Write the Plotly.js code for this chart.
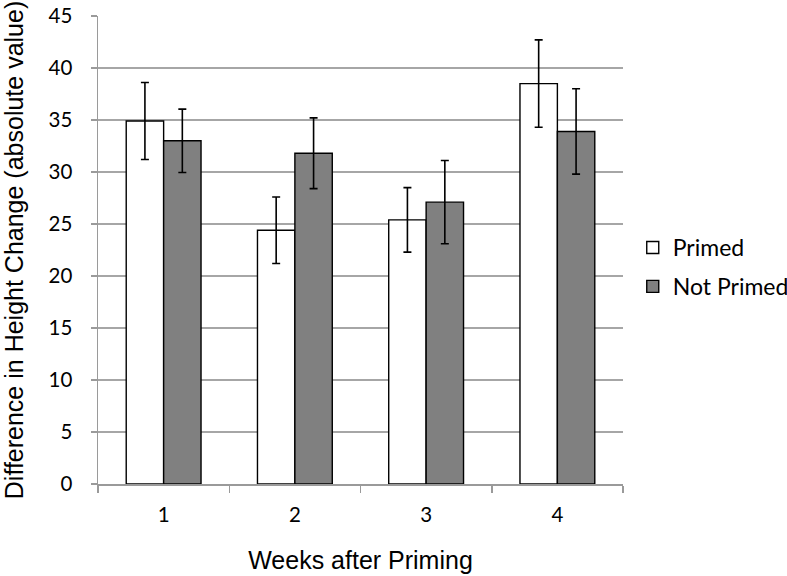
<!DOCTYPE html>
<html>
<head>
<meta charset="utf-8">
<script src="https://cdn.plot.ly/plotly-3.0.1.min.js"></script>
<style>html,body{margin:0;padding:0;background:#fff;}#chart{width:787px;height:576px;}</style>
</head>
<body>
<div id="chart"></div>
<script>
const weeks = ['1', '2', '3', '4'];
const primed = [34.9, 24.4, 25.4, 38.5];
const primedErr = [3.7, 3.2, 3.1, 4.2];
const notPrimed = [33.0, 31.8, 27.1, 33.9];
const notPrimedErr = [3.05, 3.4, 4.0, 4.1];
const yTicks = [0, 5, 10, 15, 20, 25, 30, 35, 40, 45];

const errStyle = {type: 'data', visible: true, color: '#000', thickness: 1.6, width: 4};
const traces = [
  {type: 'bar', name: 'Primed', x: weeks, y: primed, legendgroup: 'a',
   error_y: Object.assign({array: primedErr}, errStyle),
   marker: {color: '#ffffff', line: {color: '#000', width: 1.4}}},
  {type: 'bar', name: 'Not Primed', x: weeks, y: notPrimed, legendgroup: 'b',
   error_y: Object.assign({array: notPrimedErr}, errStyle),
   marker: {color: '#808080', line: {color: '#000', width: 1.4}}}
];
const titleFont = {family: '"Liberation Sans", Arial, sans-serif', size: 25, color: '#000'};
const layout = {
  width: 787, height: 576,
  margin: {l: 98, r: 164, t: 16, b: 92},
  paper_bgcolor: '#fff', plot_bgcolor: '#fff',
  barmode: 'group', bargap: 0.43, bargroupgap: 0,
  font: {family: 'Lato, "Open Sans", sans-serif', color: '#000', size: 20},
  xaxis: {
    type: 'category', tickson: 'boundaries', ticks: 'outside', ticklen: 7,
    tickcolor: '#9a9a9a', tickwidth: 1.5, ticklabelstandoff: 12,
    showline: true, linecolor: '#9a9a9a', linewidth: 1.5,
    showgrid: false, tickfont: {size: 20.5}, automargin: false,
    title: {text: 'Weeks after Priming', font: titleFont, standoff: 26}
  },
  yaxis: {
    range: [0, 45], tickvals: yTicks, ticktext: yTicks.map(String),
    ticks: 'outside', ticklen: 6, tickcolor: '#9a9a9a', tickwidth: 1.5, ticklabelstandoff: 14,
    showline: true, linecolor: '#9a9a9a', linewidth: 1.5,
    showgrid: true, gridcolor: '#a6a6a6', gridwidth: 1.5, zeroline: false,
    tickfont: {size: 20.5}, automargin: false,
    title: {text: 'Difference in Height Change (absolute value)', font: titleFont, standoff: 20}
  },
  legend: {xref: 'container', yref: 'container', x: 0.804, xanchor: 'left', y: 1 - 267 / 576, yanchor: 'middle',
           font: {size: 23}, bgcolor: 'rgba(0,0,0,0)', traceorder: 'grouped', tracegroupgap: 6, itemwidth: 30},
  showlegend: true
};
Plotly.newPlot('chart', traces, layout, {displayModeBar: false, staticPlot: true});
</script>
</body>
</html>
